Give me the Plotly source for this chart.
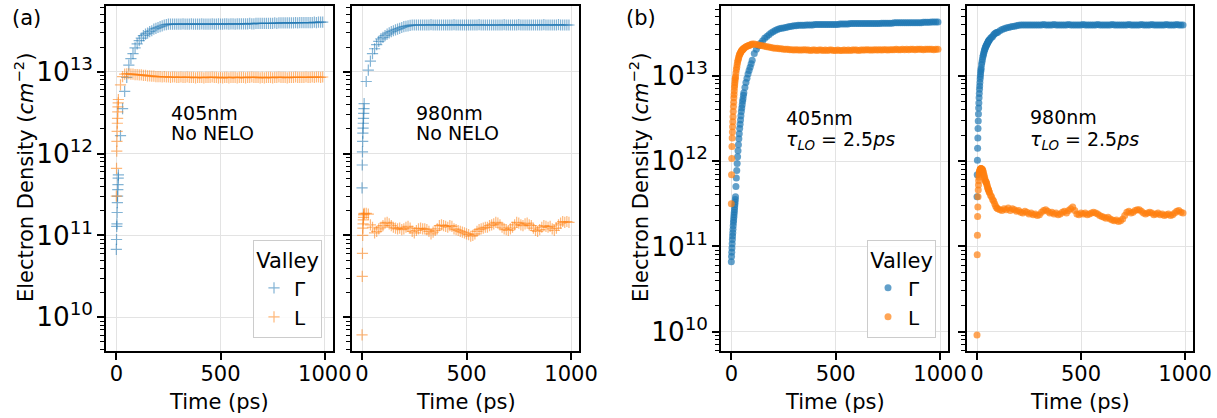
import plotly.graph_objects as go

W, H = 1217, 418

# ---------------- data ----------------
# Time grid for panel (a) (ps)
T_A = [0, 1, 2, 3, 4, 5, 6, 7, 8, 9, 10,
       20, 30, 40, 50, 60, 70, 80, 90,
       100, 110, 120, 130, 140, 150, 160, 170, 180, 190,
       200, 210, 220, 230, 240, 250, 260, 270, 280, 290,
       300, 310, 320, 330, 340, 350, 360, 370, 380, 390,
       400, 410, 420, 430, 440, 450, 460, 470, 480, 490,
       500, 510, 520, 530, 540, 550, 560, 570, 580, 590,
       600, 610, 620, 630, 640, 650, 660, 670, 680, 690,
       700, 710, 720, 730, 740, 750, 760, 770, 780, 790,
       800, 810, 820, 830, 840, 850, 860, 870, 880, 890,
       900, 910, 920, 930, 940, 950, 960, 970, 980, 990]

# Time grid for panel (b) (ps)
T_B = [0, 1, 2, 3, 4, 5, 6, 7, 8, 9, 10, 11, 12, 13, 14, 15, 16, 17, 18, 19, 20,
       22, 24, 26, 28, 30, 32, 34, 36, 38, 40, 42, 44, 46, 48, 50, 52, 54, 56, 58, 60,
       65, 70, 75, 80, 85, 90, 95, 100,
       110, 120, 130, 140, 150, 160, 170, 180, 190,
       200, 210, 220, 230, 240, 250, 260, 270, 280, 290,
       300, 310, 320, 330, 340, 350, 360, 370, 380, 390,
       400, 410, 420, 430, 440, 450, 460, 470, 480, 490,
       500, 510, 520, 530, 540, 550, 560, 570, 580, 590,
       600, 610, 620, 630, 640, 650, 660, 670, 680, 690,
       700, 710, 720, 730, 740, 750, 760, 770, 780, 790,
       800, 810, 820, 830, 840, 850, 860, 870, 880, 890,
       900, 910, 920, 930, 940, 950, 960, 970, 980, 990]

# log10 of electron density (cm^-2)
A405_GAMMA_LOG = [10.83, 10.95, 11.11, 11.14, 11.28, 11.40, 11.48, 11.56, 11.62, 11.70, 11.74,
                  12.22, 12.55, 12.76, 12.93, 13.08, 13.16, 13.22, 13.29,
                  13.34, 13.38, 13.41, 13.44, 13.46, 13.47, 13.49, 13.50, 13.52, 13.53,
                  13.54, 13.55, 13.56, 13.57, 13.575, 13.58, 13.58, 13.58, 13.58, 13.58,
                  13.58, 13.58, 13.585, 13.58, 13.58, 13.58, 13.585, 13.58, 13.58, 13.58,
                  13.58, 13.585, 13.58, 13.58, 13.58, 13.58, 13.585, 13.58, 13.58, 13.585,
                  13.58, 13.58, 13.585, 13.585, 13.58, 13.585, 13.585, 13.58, 13.585, 13.585,
                  13.585, 13.585, 13.585, 13.585, 13.59, 13.585, 13.585, 13.59, 13.59, 13.59,
                  13.59, 13.59, 13.59, 13.59, 13.59, 13.59, 13.595, 13.59, 13.595, 13.595,
                  13.595, 13.595, 13.595, 13.595, 13.595, 13.595, 13.60, 13.595, 13.60, 13.60,
                  13.60, 13.60, 13.60, 13.60, 13.60, 13.605, 13.60, 13.605, 13.605, 13.605]

A405_L_LOG = [11.48, 11.82, 12.03, 12.15, 12.27, 12.37, 12.43, 12.51, 12.57, 12.62, 12.66,
              12.84, 12.94, 12.97, 12.975, 12.975, 12.97, 12.97, 12.965,
              12.965, 12.96, 12.96, 12.955, 12.955, 12.95, 12.95, 12.945, 12.945, 12.94,
              12.94, 12.94, 12.935, 12.94, 12.935, 12.935, 12.93, 12.935, 12.935, 12.93,
              12.93, 12.935, 12.93, 12.93, 12.935, 12.93, 12.93, 12.93, 12.925, 12.93,
              12.93, 12.93, 12.925, 12.93, 12.93, 12.93, 12.935, 12.93, 12.93, 12.925,
              12.93, 12.925, 12.93, 12.93, 12.925, 12.93, 12.93, 12.93, 12.925, 12.93,
              12.93, 12.93, 12.925, 12.93, 12.93, 12.935, 12.93, 12.93, 12.93, 12.925,
              12.93, 12.925, 12.93, 12.93, 12.93, 12.925, 12.93, 12.93, 12.935, 12.93,
              12.93, 12.93, 12.925, 12.93, 12.93, 12.93, 12.935, 12.93, 12.93, 12.93,
              12.93, 12.935, 12.93, 12.93, 12.935, 12.93, 12.935, 12.935, 12.93, 12.935]

A980_GAMMA_LOG = [11.58, 11.86, 12.02, 12.15, 12.25, 12.31, 12.37, 12.43, 12.49, 12.55, 12.61,
                  12.88, 13.02, 13.13, 13.22, 13.28, 13.33, 13.37, 13.40,
                  13.42, 13.44, 13.46, 13.475, 13.49, 13.50, 13.51, 13.52, 13.53, 13.54,
                  13.55, 13.555, 13.56, 13.565, 13.57, 13.57, 13.57, 13.57, 13.57, 13.57,
                  13.57, 13.57, 13.57, 13.575, 13.57, 13.57, 13.57, 13.57, 13.57, 13.57,
                  13.57, 13.57, 13.57, 13.57, 13.575, 13.57, 13.57, 13.57, 13.57, 13.57,
                  13.57, 13.57, 13.57, 13.57, 13.57, 13.57, 13.575, 13.57, 13.57, 13.57,
                  13.57, 13.57, 13.57, 13.57, 13.57, 13.57, 13.57, 13.57, 13.575, 13.57,
                  13.57, 13.57, 13.57, 13.57, 13.57, 13.575, 13.57, 13.57, 13.57, 13.57,
                  13.57, 13.57, 13.57, 13.57, 13.57, 13.57, 13.57, 13.575, 13.57, 13.57,
                  13.57, 13.57, 13.57, 13.57, 13.575, 13.57, 13.57, 13.57, 13.57, 13.57]

A980_L_LOG = [9.785, 10.50, 10.78, 11.00, 11.09, 11.14, 11.19, 11.22, 11.25, 11.26, 11.27,
              11.27, 11.26, 11.13, 11.10, 11.03, 11.05, 11.08, 11.10,
              11.12, 11.15, 11.16, 11.14, 11.12, 11.10, 11.09, 11.08, 11.09, 11.07,
              11.08, 11.10, 11.11, 11.09, 11.05, 11.03, 11.06, 11.08, 11.09, 11.08,
              11.08, 11.07, 11.05, 11.02, 11.04, 11.06, 11.08, 11.12, 11.13, 11.12,
              11.11, 11.10, 11.12, 11.11, 11.08, 11.07, 11.06, 11.05, 11.04, 11.03,
              11.02, 11.01, 10.99, 11.00, 11.02, 11.05, 11.07, 11.08, 11.09, 11.10,
              11.10, 11.12, 11.13, 11.14, 11.16, 11.15, 11.13, 11.10, 11.08, 11.07,
              11.06, 11.08, 11.10, 11.13, 11.16, 11.15, 11.13, 11.12, 11.14, 11.15,
              11.13, 11.12, 11.09, 11.06, 11.05, 11.07, 11.10, 11.12, 11.11, 11.10,
              11.11, 11.08, 11.06, 11.09, 11.13, 11.15, 11.17, 11.16, 11.17, 11.16]

B405_GAMMA_LOG = [10.82, 10.88, 10.93, 10.98, 11.03, 11.08, 11.12, 11.16, 11.20, 11.24, 11.28,
                  11.31, 11.34, 11.37, 11.40, 11.43, 11.46, 11.49, 11.52, 11.55, 11.58,
                  11.70, 11.80, 11.89, 11.97, 12.05, 12.12, 12.19, 12.26, 12.32, 12.38,
                  12.43, 12.48, 12.53, 12.58, 12.62, 12.66, 12.70, 12.73, 12.77, 12.80,
                  12.86, 12.92, 12.97, 13.02, 13.06, 13.10, 13.14, 13.18,
                  13.26, 13.31, 13.35, 13.38, 13.41, 13.44, 13.46, 13.48, 13.50,
                  13.515, 13.53, 13.54, 13.55, 13.555, 13.56, 13.565, 13.57, 13.575, 13.58,
                  13.585, 13.585, 13.59, 13.59, 13.59, 13.59, 13.595, 13.595, 13.595, 13.595,
                  13.60, 13.60, 13.60, 13.60, 13.60, 13.60, 13.60, 13.60, 13.60, 13.60,
                  13.60, 13.60, 13.605, 13.605, 13.605, 13.605, 13.605, 13.61, 13.61, 13.61,
                  13.61, 13.61, 13.61, 13.61, 13.61, 13.61, 13.61, 13.61, 13.61, 13.61,
                  13.61, 13.61, 13.615, 13.615, 13.615, 13.615, 13.615, 13.615, 13.62, 13.62,
                  13.62, 13.62, 13.62, 13.62, 13.62, 13.62, 13.62, 13.62, 13.62, 13.62,
                  13.62, 13.62, 13.625, 13.625, 13.625, 13.625, 13.63, 13.63, 13.63, 13.63]

B405_L_LOG = [11.50, 11.84, 12.03, 12.17, 12.27, 12.34, 12.40, 12.46, 12.52, 12.58, 12.64,
              12.69, 12.74, 12.78, 12.82, 12.86, 12.89, 12.92, 12.95, 12.97, 12.99,
              13.03, 13.07, 13.10, 13.13, 13.16, 13.18, 13.20, 13.22, 13.24, 13.25,
              13.26, 13.27, 13.28, 13.29, 13.295, 13.30, 13.305, 13.31, 13.315, 13.32,
              13.33, 13.34, 13.345, 13.35, 13.355, 13.36, 13.365, 13.37,
              13.37, 13.365, 13.36, 13.355, 13.35, 13.345, 13.34, 13.335, 13.33,
              13.325, 13.32, 13.32, 13.315, 13.315, 13.31, 13.31, 13.31, 13.305, 13.305,
              13.30, 13.305, 13.30, 13.30, 13.30, 13.305, 13.30, 13.30, 13.295, 13.30,
              13.30, 13.295, 13.30, 13.30, 13.295, 13.30, 13.295, 13.30, 13.30, 13.295,
              13.295, 13.30, 13.295, 13.295, 13.30, 13.295, 13.30, 13.295, 13.30, 13.30,
              13.30, 13.295, 13.30, 13.30, 13.30, 13.305, 13.30, 13.30, 13.30, 13.305,
              13.30, 13.305, 13.30, 13.305, 13.305, 13.30, 13.305, 13.305, 13.305, 13.31,
              13.305, 13.305, 13.31, 13.305, 13.31, 13.305, 13.31, 13.31, 13.305, 13.31,
              13.31, 13.31, 13.305, 13.31, 13.31, 13.31, 13.31, 13.305, 13.31, 13.31]

B980_GAMMA_LOG = [11.58, 11.84, 12.01, 12.15, 12.27, 12.38, 12.47, 12.55, 12.62, 12.68, 12.74,
                  12.79, 12.84, 12.88, 12.92, 12.96, 12.99, 13.02, 13.05, 13.07, 13.09,
                  13.13, 13.16, 13.19, 13.22, 13.24, 13.26, 13.28, 13.30, 13.31, 13.33,
                  13.34, 13.35, 13.36, 13.37, 13.38, 13.39, 13.40, 13.41, 13.415, 13.42,
                  13.44, 13.45, 13.46, 13.48, 13.49, 13.50, 13.505, 13.51,
                  13.525, 13.54, 13.55, 13.56, 13.565, 13.57, 13.575, 13.58, 13.585,
                  13.59, 13.595, 13.595, 13.595, 13.595, 13.595, 13.595, 13.595, 13.595, 13.595,
                  13.595, 13.595, 13.60, 13.595, 13.595, 13.595, 13.595, 13.60, 13.595, 13.595,
                  13.595, 13.595, 13.595, 13.595, 13.60, 13.595, 13.595, 13.595, 13.595, 13.595,
                  13.595, 13.60, 13.595, 13.595, 13.595, 13.595, 13.595, 13.595, 13.60, 13.595,
                  13.595, 13.595, 13.595, 13.595, 13.595, 13.60, 13.595, 13.595, 13.595, 13.595,
                  13.595, 13.595, 13.595, 13.60, 13.595, 13.595, 13.595, 13.595, 13.595, 13.60,
                  13.595, 13.595, 13.595, 13.595, 13.60, 13.595, 13.595, 13.595, 13.595, 13.595,
                  13.595, 13.60, 13.595, 13.595, 13.595, 13.595, 13.60, 13.595, 13.595, 13.595]

B980_L_LOG = [9.96, 10.90, 11.13, 11.35, 11.46, 11.58, 11.66, 11.72, 11.77, 11.81, 11.84,
              11.86, 11.87, 11.88, 11.89, 11.90, 11.90, 11.91, 11.91, 11.91, 11.91,
              11.91, 11.90, 11.90, 11.89, 11.87, 11.85, 11.83, 11.81, 11.79, 11.77,
              11.76, 11.75, 11.74, 11.72, 11.70, 11.68, 11.67, 11.66, 11.64, 11.63,
              11.60, 11.58, 11.55, 11.53, 11.50, 11.47, 11.45, 11.44,
              11.43, 11.42, 11.44, 11.43, 11.45, 11.42, 11.44, 11.43, 11.41,
              11.42, 11.40, 11.39, 11.41, 11.40, 11.38, 11.39, 11.37, 11.38, 11.36,
              11.37, 11.40, 11.42, 11.43, 11.41, 11.39, 11.40, 11.38, 11.39, 11.37,
              11.38, 11.40, 11.41, 11.39, 11.42, 11.44, 11.46, 11.42, 11.38, 11.37,
              11.39, 11.38, 11.39, 11.37, 11.38, 11.39, 11.40, 11.39, 11.38, 11.36,
              11.35, 11.34, 11.33, 11.34, 11.32, 11.31, 11.30, 11.31, 11.29, 11.30,
              11.32, 11.36, 11.40, 11.41, 11.39, 11.40, 11.42, 11.43, 11.43, 11.41,
              11.39, 11.38, 11.39, 11.40, 11.39, 11.37, 11.38, 11.39, 11.37, 11.38,
              11.36, 11.37, 11.38, 11.36, 11.37, 11.39, 11.41, 11.42, 11.40, 11.39]

for arr in (A405_GAMMA_LOG, A405_L_LOG, A980_GAMMA_LOG, A980_L_LOG):
    assert len(arr) == len(T_A), len(arr)
for arr in (B405_GAMMA_LOG, B405_L_LOG, B980_GAMMA_LOG, B980_L_LOG):
    assert len(arr) == len(T_B), len(arr)


def dens(log_vals):
    return [10 ** v for v in log_vals]


VALLEYS = ["Γ", "L"]
COLORS = ["#1f77b4", "#ff7f0e"]
FONT = "DejaVu Sans"
FS_TICK = 21
FS_LABEL = 21
FS_TEXT = 19

# ---------------- figure ----------------
fig = go.Figure()

panels = [
    ("x", "y", T_A, [A405_GAMMA_LOG, A405_L_LOG], "plus", "legend", True),
    ("x2", "y2", T_A, [A980_GAMMA_LOG, A980_L_LOG], "plus", "legend", False),
    ("x3", "y3", T_B, [B405_GAMMA_LOG, B405_L_LOG], "dot", "legend2", True),
    ("x4", "y4", T_B, [B980_GAMMA_LOG, B980_L_LOG], "dot", "legend2", False),
]

for xa, ya, tt, series, style, leg, show in panels:
    for name, col, vals in zip(VALLEYS, COLORS, series):
        if style == "plus":
            marker = dict(symbol="cross-thin", size=8, color=col, opacity=0.55,
                          line=dict(width=1.2, color=col))
        else:
            marker = dict(symbol="circle", size=7, color=col, opacity=0.7,
                          line=dict(width=0))
        fig.add_trace(go.Scatter(
            x=tt, y=dens(vals), mode="markers", name=name, marker=marker,
            xaxis=xa, yaxis=ya, legend=leg, showlegend=show,
        ))


def px_x(x):
    return x / W


def px_y(y):
    return 1 - y / H


Y_DOM = [px_y(350.7), px_y(5.7)]
X_DOMS = [[px_x(106), px_x(333)], [px_x(351.7), px_x(579.3)],
          [px_x(721), px_x(948.3)], [px_x(966.7), px_x(1193.3)]]

common_x = dict(range=[-49.5, 1039.5], tickvals=[0, 500, 1000], ticks="outside",
                ticklen=7, tickwidth=1.6, tickcolor="black", showline=True,
                linecolor="black", linewidth=1.6, mirror=True, showgrid=True,
                gridcolor="#e3e3e3", gridwidth=1.4, zeroline=False, automargin=False,
                ticklabelstandoff=-4,
                tickfont=dict(family=FONT, size=FS_TICK, color="black"))
common_y = dict(type="log", dtick=1, exponentformat="power", ticks="outside",
                ticklen=7, tickwidth=1.6, tickcolor="black", showline=True,
                linecolor="black", linewidth=1.6, mirror=True, showgrid=True,
                gridcolor="#e3e3e3", gridwidth=1.4, zeroline=False, automargin=False,
                tickfont=dict(family=FONT, size=FS_TICK, color="black"),
                minor=dict(ticks="outside", ticklen=4, tickwidth=1.2, tickcolor="black",
                           showgrid=False, dtick="D1"),
                domain=Y_DOM)

RANGE_A = [9.592, 13.806]
RANGE_B = [9.777, 13.82]

layout_axes = {}
for i, dom in enumerate(X_DOMS):
    k = "" if i == 0 else str(i + 1)
    layout_axes["xaxis" + k] = dict(common_x, domain=dom, anchor="y" + k)
    yr = RANGE_A if i < 2 else RANGE_B
    layout_axes["yaxis" + k] = dict(common_y, range=yr, anchor="x" + k,
                                    showticklabels=(i in (0, 2)))

annotations = []


def ann(text, x, y, xanchor="left", yanchor="middle", angle=0, size=FS_TEXT):
    annotations.append(dict(text=text, x=px_x(x), y=px_y(y), xref="paper", yref="paper",
                            xanchor=xanchor, yanchor=yanchor, showarrow=False,
                            textangle=angle, font=dict(family=FONT, size=size, color="black")))


ann("(a)", 26, 18, xanchor="center", size=FS_LABEL)
ann("(b)", 641, 18, xanchor="center", size=FS_LABEL)
ann("405nm", 169, 113)
ann("No NELO", 169, 133)
ann("980nm", 414, 113)
ann("No NELO", 414, 133)
ann("405nm", 784, 118)
ann("<i>τ<sub>LO</sub></i> = 2.5<i>ps</i>", 784, 140)
ann("980nm", 1028, 117)
ann("<i>τ<sub>LO</sub></i> = 2.5<i>ps</i>", 1028, 140)
ytitle = "Electron Density (<i>cm</i><sup>−2</sup>)"
ann(ytitle, 24, 178, xanchor="center", angle=-90, size=FS_LABEL)
ann(ytitle, 639, 178, xanchor="center", angle=-90, size=FS_LABEL)
for dom in X_DOMS:
    cx = (dom[0] + dom[1]) / 2 * W
    ann("Time (ps)", cx, 402, xanchor="center", size=FS_LABEL)

leg_common = dict(xanchor="right", yanchor="bottom", bgcolor="rgba(255,255,255,0.85)",
                  bordercolor="#cccccc", borderwidth=1,
                  font=dict(family=FONT, size=20, color="black"),
                  title=dict(text="Valley", side="top center",
                             font=dict(family=FONT, size=FS_LABEL, color="black")))

fig.update_layout(
    width=W, height=H,
    margin=dict(l=0, r=0, t=0, b=0),
    paper_bgcolor="white", plot_bgcolor="white",
    font=dict(family=FONT, size=FS_TICK, color="black"),
    annotations=annotations,
    legend=dict(leg_common, x=px_x(322), y=px_y(338)),
    legend2=dict(leg_common, x=px_x(936), y=px_y(338)),
    **layout_axes,
)

fig.write_html("out.html", config={"displayModeBar": False},
               post_script="document.body.style.margin='0';")
